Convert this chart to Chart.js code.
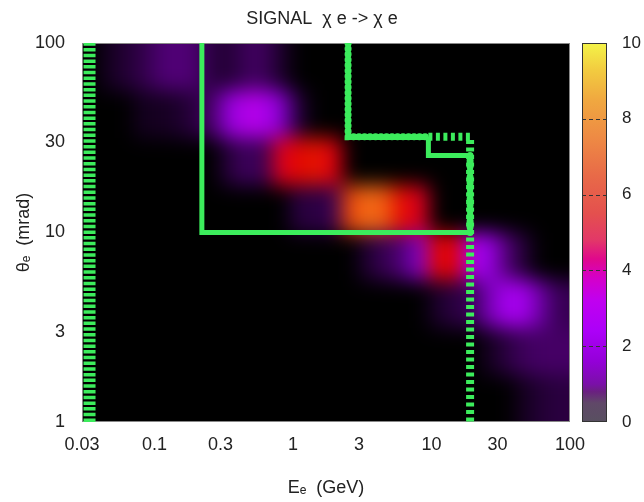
<!DOCTYPE html>
<html>
<head>
<meta charset="utf-8">
<script src="https://cdn.jsdelivr.net/npm/chart.js@4.4.0/dist/chart.umd.min.js"></script>
<style>
  body { margin: 0; background: #fff; }
  canvas { display: block; }
</style>
</head>
<body>
<canvas id="signalChart" width="644" height="502"></canvas>
<script>
// histogram bins: E_e in GeV, theta_e in mrad (rows go from large theta down)
const eEdges = [0.03, 0.04, 0.0533, 0.0711, 0.0949, 0.126, 0.169, 0.225, 0.3, 0.4,
  0.533, 0.711, 0.949, 1.26, 1.69, 2.25, 3.0, 4.0, 5.33, 7.11,
  9.49, 12.6, 16.9, 22.5, 30, 40, 53.3, 71.1, 100];
const thetaEdges = [100, 56.2, 31.6, 17.8, 10, 5.62, 3.16, 1.78, 1];
const signal = [
  [0, 0.3, 0.5, 0.7, 1.1, 1.2, 1.1, 0.6, 0.5, 0.9, 0.9, 0.4, 0, 0, 0, 0, 0, 0, 0, 0, 0, 0, 0, 0, 0, 0, 0, 0],
  [0, 0, 0, 0.3, 0.3, 0.4, 0.6, 1.0, 2.4, 3.2, 3.1, 2.0, 0.5, 0, 0, 0, 0, 0, 0, 0, 0, 0, 0, 0, 0, 0, 0, 0],
  [0, 0, 0, 0, 0, 0, 0, 0, 0.6, 0.9, 0.8, 5.0, 5.6, 5.8, 5.2, 0, 0, 0, 0, 0, 0, 0, 0, 0, 0, 0, 0, 0],
  [0, 0, 0, 0, 0, 0, 0, 0, 0, 0, 0, 0, 0.6, 0.6, 0.8, 6.6, 7.4, 7.0, 5.6, 4.9, 0, 0, 0, 0, 0, 0, 0, 0],
  [0, 0, 0, 0, 0, 0, 0, 0, 0, 0, 0, 0, 0, 0, 0, 0, 0.5, 0.8, 1.2, 2.0, 5.6, 5.4, 2.8, 2.6, 1.2, 0.5, 0, 0],
  [0, 0, 0, 0, 0, 0, 0, 0, 0, 0, 0, 0, 0, 0, 0, 0, 0, 0, 0, 0, 0.4, 0.6, 0.8, 1.8, 2.8, 2.8, 1.6, 0.8],
  [0, 0, 0, 0, 0, 0, 0, 0, 0, 0, 0, 0, 0, 0, 0, 0, 0, 0, 0, 0, 0, 0, 0, 0.3, 0.6, 0.9, 1.0, 1.0],
  [0, 0, 0, 0, 0, 0, 0, 0, 0, 0, 0, 0, 0, 0, 0, 0, 0, 0, 0, 0, 0, 0, 0, 0, 0, 0.3, 0.5, 0.6]
];

const eTicks = [0.03, 0.1, 0.3, 1, 3, 10, 30, 100];
const thetaTicks = [1, 3, 10, 30, 100];
const zTicks = [0, 2, 4, 6, 8, 10];

// cut lines
const vetoLowE = [0.034, 0.034];
const vetoLowTheta = [1, 100];
const vetoHighE = [9.5, 19, 19];
const vetoHighTheta = [32, 32, 1];
const boxSolidE = [0.22, 0.22, 19, 19, 9.5, 9.5];
const boxSolidTheta = [100, 10, 10, 25.5, 25.5, 32];
const boxDotE = [2.5, 2.5, 9.5];
const boxDotTheta = [100, 32, 32];
const boxDot2E = [19, 19];
const boxDot2Theta = [10, 25.5];

const green = '#3cec5c';
const textColor = '#222';

// palettes: map colours and colour box colours
const mapStops = [
  [0, '#000000'], [0.6, '#2a0040'], [1.2, '#520078'], [2.0, '#8400cc'], [3.0, '#ac00f4'],
  [4.0, '#d000b0'], [4.7, '#dc0030'], [5.5, '#e00000'], [6.3, '#e83800'], [7.2, '#f26414'],
  [8.5, '#f49a30'], [10, '#f8f848']
];
const barStops = [
  [0, '#585060'], [0.5, '#604868'], [0.8, '#6a2080'], [1.0, '#7a10a8'], [1.6, '#9400d8'],
  [2.4, '#ac00f8'], [3.2, '#c000f0'], [3.8, '#d400c8'], [4.3, '#e0088c'], [4.8, '#e23868'],
  [5.5, '#e4504e'], [6.5, '#e86a48'], [7.5, '#ee8a44'], [8.5, '#f0a840'], [9.3, '#f2cc40'],
  [10, '#f4f448']
];

function hexRgb(h) {
  return [1, 3, 5].map(i => parseInt(h.slice(i, i + 2), 16));
}

function paletteColor(stops, v) {
  if (v <= stops[0][0]) return stops[0][1];
  for (let i = 0; i < stops.length - 1; i++) {
    const [v0, c0] = stops[i];
    const [v1, c1] = stops[i + 1];
    if (v <= v1) {
      const t = (v - v0) / (v1 - v0);
      const a = hexRgb(c0), b = hexRgb(c1);
      return 'rgb(' + a.map((x, k) => Math.round(x + (b[k] - x) * t)).join(',') + ')';
    }
  }
  return stops[stops.length - 1][1];
}

const pts = (xs, ys) => xs.map((x, i) => ({x: x, y: ys[i]}));

const heatmapPlugin = {
  id: 'heatmap',
  beforeDatasetsDraw(chart) {
    const {ctx, chartArea: a, scales: {x, y}} = chart;
    const off = document.createElement('canvas');
    off.width = chart.width;
    off.height = chart.height;
    const octx = off.getContext('2d');
    const nRows = signal.length, nCols = eEdges.length - 1;
    signal.forEach((row, r) => row.forEach((v, c) => {
      if (v <= 0) return;
      let x0 = x.getPixelForValue(eEdges[c]), x1 = x.getPixelForValue(eEdges[c + 1]);
      let y0 = y.getPixelForValue(thetaEdges[r]), y1 = y.getPixelForValue(thetaEdges[r + 1]);
      if (c === 0) x0 -= 20;
      if (c === nCols - 1) x1 += 20;
      if (r === 0) y0 -= 20;
      if (r === nRows - 1) y1 += 20;
      octx.fillStyle = paletteColor(mapStops, v);
      octx.fillRect(x0, y0, x1 - x0 + 0.5, y1 - y0 + 0.5);
    }));

    ctx.save();
    ctx.beginPath();
    ctx.rect(a.left, a.top, a.width, a.height);
    ctx.clip();
    ctx.fillStyle = '#000';
    ctx.fillRect(a.left, a.top, a.width, a.height);
    ctx.filter = 'blur(10px)';
    ctx.drawImage(off, 0, 0, chart.width, chart.height);
    ctx.restore();

    ctx.save();
    ctx.strokeStyle = '#888';
    ctx.lineWidth = 1;
    ctx.strokeRect(a.left + 0.5, a.top + 0.5, a.width - 1, a.height - 1);
    ctx.restore();
  }
};

const colorbarPlugin = {
  id: 'colorbar',
  afterDraw(chart) {
    const {ctx, chartArea: a, scales: {z}} = chart;
    const left = a.right + 12, w = 25;
    const top = z.getPixelForValue(10), bottom = z.getPixelForValue(0);
    const g = ctx.createLinearGradient(0, bottom, 0, top);
    barStops.forEach(([v, c]) => g.addColorStop(v / 10, c));
    ctx.save();
    ctx.fillStyle = g;
    ctx.fillRect(left, top, w, bottom - top);
    ctx.strokeStyle = '#333';
    ctx.lineWidth = 1;
    ctx.strokeRect(left + 0.5, top + 0.5, w - 1, bottom - top - 1);
    ctx.setLineDash([4, 3]);
    zTicks.slice(1, -1).forEach(v => {
      const py = Math.round(z.getPixelForValue(v)) + 0.5;
      ctx.beginPath();
      ctx.moveTo(left, py);
      ctx.lineTo(left + w, py);
      ctx.stroke();
    });
    ctx.restore();
  }
};

Chart.defaults.font.family = "'Liberation Sans', Arial, sans-serif";

new Chart(document.getElementById('signalChart'), {
  type: 'scatter',
  data: {
    datasets: [
      {
        label: 'box dotted',
        data: pts(boxDotE, boxDotTheta),
        showLine: true, pointRadius: 0,
        borderColor: green, borderWidth: 7,
        borderDash: [0.5, 5], borderCapStyle: 'round'
      },
      {
        label: 'box dotted 2',
        data: pts(boxDot2E, boxDot2Theta),
        showLine: true, pointRadius: 0,
        borderColor: green, borderWidth: 7,
        borderDash: [0.5, 5], borderCapStyle: 'round'
      },
      {
        label: 'box',
        data: pts(boxSolidE, boxSolidTheta),
        showLine: true, pointRadius: 0,
        borderColor: green, borderWidth: 5
      },
      {
        label: 'veto high',
        data: pts(vetoHighE, vetoHighTheta),
        showLine: true, pointRadius: 0,
        borderColor: green, borderWidth: 8,
        borderDash: [4, 3.5]
      },
      {
        label: 'veto low',
        data: pts(vetoLowE, vetoLowTheta),
        showLine: true, pointRadius: 0,
        borderColor: green, borderWidth: 12,
        borderDash: [3.5, 2.2]
      }
    ]
  },
  options: {
    responsive: false,
    animation: false,
    events: [],
    layout: { padding: 0 },
    plugins: {
      legend: { display: false },
      tooltip: { enabled: false },
      title: {
        display: true,
        text: 'SIGNAL  \u03c7 e -> \u03c7 e',
        color: textColor,
        font: { size: 18, weight: 'normal' },
        padding: { top: 8, bottom: 13.4 }
      }
    },
    scales: {
      x: {
        type: 'logarithmic',
        min: 0.03, max: 100,
        afterBuildTicks: s => { s.ticks = eTicks.map(v => ({value: v})); },
        afterFit: s => { s.height = 80; },
        ticks: {
          callback: v => String(v),
          autoSkip: false, maxRotation: 0,
          padding: 12, color: textColor, font: { size: 18 }
        },
        grid: { display: false, drawTicks: false },
        border: { display: false },
        title: {
          display: true, text: 'E\u2091  (GeV)', color: textColor,
          font: { size: 18 }, padding: { top: 0, bottom: 3 }
        }
      },
      y: {
        type: 'logarithmic',
        min: 1, max: 100,
        afterBuildTicks: s => { s.ticks = thetaTicks.map(v => ({value: v})); },
        afterFit: s => { s.width = 82; },
        ticks: {
          callback: v => String(v),
          autoSkip: false,
          padding: 17, color: textColor, font: { size: 18 }
        },
        grid: { display: false, drawTicks: false },
        border: { display: false },
        title: {
          display: true, text: '\u03b8\u2091  (mrad)', color: textColor,
          font: { size: 18 }, padding: { top: 13, bottom: 0 }
        }
      },
      z: {
        axis: 'y',
        type: 'linear',
        position: 'right',
        min: 0, max: 10,
        afterBuildTicks: s => { s.ticks = zTicks.map(v => ({value: v})); },
        afterFit: s => { s.width = 74; },
        ticks: { padding: 2, color: textColor, font: { size: 17 } },
        grid: { display: false, drawTicks: true, tickLength: 50 },
        border: { display: false }
      }
    }
  },
  plugins: [heatmapPlugin, colorbarPlugin]
});
</script>
</body>
</html>
